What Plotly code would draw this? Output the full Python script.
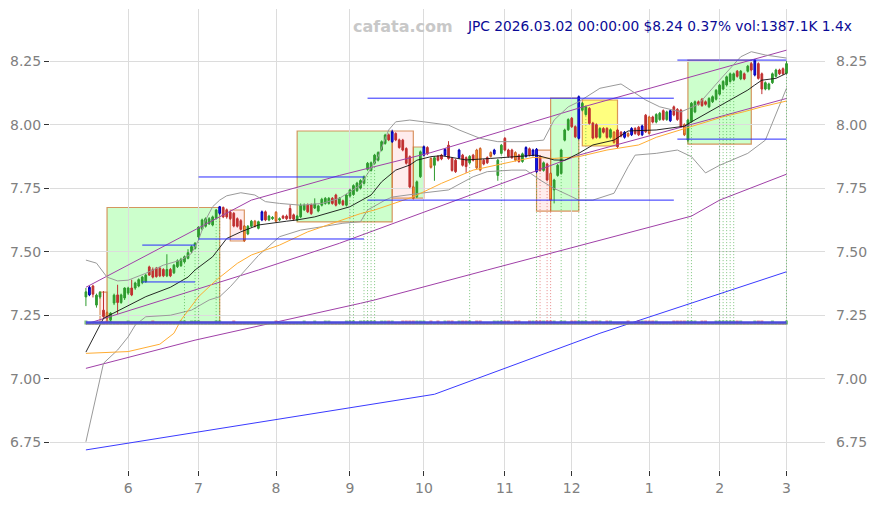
import pandas as pd
import plotly.graph_objects as go

# ---------------- data ----------------
holidays = ["2025-05-26", "2025-06-19", "2025-07-04", "2025-09-01", "2025-11-27",
            "2025-12-25", "2026-01-01", "2026-01-19", "2026-02-16"]
dates = [d.strftime("%Y-%m-%d") for d in pd.bdate_range("2025-05-14", "2026-03-02")
         if d.strftime("%Y-%m-%d") not in holidays]

opens = [7.322, 7.330, 7.365, 7.290, 7.322, 7.270, 7.260, 7.232, 7.298, 7.330,
         7.300, 7.318, 7.337, 7.357, 7.357, 7.365, 7.378, 7.382, 7.440, 7.430,
         7.435, 7.435, 7.430, 7.405, 7.430, 7.417, 7.441, 7.445, 7.460, 7.474,
         7.500, 7.513, 7.558, 7.589, 7.600, 7.610, 7.605, 7.631, 7.651, 7.674,
         7.665, 7.655, 7.651, 7.630, 7.622, 7.601, 7.570, 7.600, 7.620, 7.592,
         7.625, 7.657, 7.625, 7.630, 7.655, 7.625, 7.640, 7.640, 7.670, 7.645,
         7.625, 7.637, 7.665, 7.683, 7.685, 7.672, 7.660, 7.683, 7.690, 7.690,
         7.710, 7.723, 7.690, 7.700, 7.683, 7.719, 7.725, 7.740, 7.750, 7.769,
         7.824, 7.820, 7.848, 7.860, 7.900, 7.926, 7.960, 7.933, 7.965, 7.940,
         7.939, 7.906, 7.874, 7.755, 7.716, 7.795, 7.880, 7.910, 7.867, 7.840,
         7.875, 7.880, 7.880, 7.919, 7.867, 7.860, 7.870, 7.880, 7.870, 7.850,
         7.880, 7.900, 7.906, 7.860, 7.870, 7.890, 7.885, 7.800, 7.887, 7.946,
         7.900, 7.900, 7.890, 7.880, 7.855, 7.875, 7.905, 7.880, 7.903, 7.875,
         7.820, 7.845, 7.808, 7.743, 7.800, 7.808, 7.939, 7.980, 8.025, 7.992,
         7.946, 8.057, 8.040, 8.064, 8.006, 8.000, 7.950, 7.985, 7.985, 7.950,
         7.970, 7.979, 7.970, 7.950, 7.965, 7.960, 7.985, 7.990, 7.960, 8.037,
         8.030, 8.030, 8.010, 8.020, 8.055, 8.020, 8.015, 8.070, 8.060, 8.057,
         8.000, 7.939, 8.012, 8.050, 8.090, 8.100, 8.090, 8.070, 8.090, 8.100,
         8.120, 8.140, 8.156, 8.170, 8.175, 8.210, 8.180, 8.200, 8.210, 8.240,
         8.195, 8.240, 8.200, 8.140, 8.140, 8.165, 8.190, 8.215, 8.220, 8.202]
highs = [7.357, 7.365, 7.370, 7.335, 7.345, 7.345, 7.265, 7.262, 7.335, 7.370,
         7.335, 7.360, 7.362, 7.390, 7.382, 7.395, 7.405, 7.412, 7.445, 7.438,
         7.440, 7.440, 7.435, 7.490, 7.436, 7.452, 7.470, 7.476, 7.485, 7.510,
         7.525, 7.538, 7.600, 7.630, 7.635, 7.636, 7.642, 7.668, 7.680, 7.678,
         7.670, 7.660, 7.656, 7.635, 7.628, 7.605, 7.605, 7.625, 7.625, 7.622,
         7.662, 7.662, 7.645, 7.640, 7.660, 7.635, 7.645, 7.646, 7.685, 7.650,
         7.645, 7.690, 7.690, 7.690, 7.690, 7.710, 7.685, 7.712, 7.715, 7.715,
         7.715, 7.728, 7.715, 7.705, 7.728, 7.748, 7.765, 7.775, 7.785, 7.800,
         7.853, 7.855, 7.885, 7.895, 7.938, 7.964, 7.965, 7.980, 7.970, 7.945,
         7.944, 7.911, 7.879, 7.760, 7.780, 7.898, 7.918, 7.915, 7.872, 7.875,
         7.880, 7.885, 7.908, 7.935, 7.872, 7.865, 7.905, 7.885, 7.875, 7.880,
         7.885, 7.905, 7.911, 7.865, 7.875, 7.895, 7.905, 7.865, 7.924, 7.951,
         7.905, 7.905, 7.895, 7.885, 7.890, 7.915, 7.910, 7.905, 7.908, 7.880,
         7.855, 7.850, 7.813, 7.787, 7.845, 7.905, 7.984, 8.025, 8.030, 7.997,
         8.115, 8.089, 8.075, 8.069, 8.011, 8.005, 7.990, 7.990, 7.990, 7.985,
         7.975, 7.984, 7.975, 7.975, 7.970, 7.990, 7.990, 7.995, 8.000, 8.042,
         8.035, 8.035, 8.045, 8.050, 8.060, 8.055, 8.060, 8.075, 8.065, 8.062,
         8.005, 8.023, 8.089, 8.095, 8.095, 8.105, 8.095, 8.108, 8.115, 8.140,
         8.160, 8.175, 8.193, 8.205, 8.205, 8.215, 8.215, 8.205, 8.235, 8.245,
         8.258, 8.245, 8.205, 8.170, 8.165, 8.205, 8.220, 8.220, 8.225, 8.250]
lows = [7.286, 7.325, 7.320, 7.280, 7.315, 7.240, 7.232, 7.225, 7.290, 7.255,
        7.295, 7.310, 7.330, 7.325, 7.350, 7.360, 7.372, 7.378, 7.405, 7.395,
        7.398, 7.400, 7.400, 7.400, 7.400, 7.412, 7.436, 7.440, 7.455, 7.470,
        7.495, 7.508, 7.550, 7.584, 7.595, 7.605, 7.600, 7.626, 7.645, 7.632,
        7.630, 7.625, 7.596, 7.595, 7.583, 7.538, 7.565, 7.595, 7.595, 7.588,
        7.620, 7.620, 7.620, 7.625, 7.615, 7.620, 7.628, 7.625, 7.626, 7.622,
        7.620, 7.632, 7.660, 7.652, 7.645, 7.668, 7.655, 7.678, 7.685, 7.685,
        7.685, 7.678, 7.685, 7.680, 7.678, 7.714, 7.720, 7.735, 7.745, 7.764,
        7.819, 7.815, 7.843, 7.855, 7.895, 7.921, 7.935, 7.928, 7.935, 7.905,
        7.895, 7.843, 7.750, 7.705, 7.711, 7.790, 7.875, 7.880, 7.827, 7.779,
        7.855, 7.860, 7.875, 7.862, 7.815, 7.810, 7.865, 7.835, 7.810, 7.845,
        7.855, 7.825, 7.816, 7.840, 7.845, 7.870, 7.880, 7.779, 7.882, 7.895,
        7.870, 7.865, 7.855, 7.850, 7.850, 7.870, 7.875, 7.875, 7.810, 7.815,
        7.815, 7.777, 7.697, 7.690, 7.795, 7.803, 7.934, 7.975, 7.987, 7.947,
        7.941, 8.052, 8.035, 8.000, 7.942, 7.945, 7.945, 7.965, 7.945, 7.945,
        7.925, 7.908, 7.950, 7.945, 7.950, 7.955, 7.960, 7.955, 7.955, 7.967,
        7.960, 8.005, 8.005, 8.015, 8.015, 8.015, 8.010, 8.033, 8.015, 7.987,
        7.955, 7.930, 8.007, 8.045, 8.075, 8.070, 8.075, 8.065, 8.085, 8.095,
        8.115, 8.135, 8.151, 8.165, 8.170, 8.185, 8.175, 8.175, 8.205, 8.210,
        8.190, 8.177, 8.120, 8.135, 8.135, 8.160, 8.185, 8.195, 8.195, 8.197]
closes = [7.342, 7.360, 7.333, 7.329, 7.340, 7.245, 7.238, 7.258, 7.329, 7.300,
          7.330, 7.357, 7.357, 7.330, 7.377, 7.390, 7.400, 7.408, 7.408, 7.400,
          7.402, 7.405, 7.405, 7.430, 7.405, 7.447, 7.464, 7.470, 7.480, 7.496,
          7.520, 7.533, 7.597, 7.625, 7.630, 7.630, 7.637, 7.664, 7.677, 7.637,
          7.637, 7.630, 7.601, 7.600, 7.588, 7.543, 7.600, 7.620, 7.600, 7.618,
          7.657, 7.625, 7.640, 7.635, 7.620, 7.630, 7.632, 7.630, 7.631, 7.628,
          7.640, 7.683, 7.683, 7.657, 7.650, 7.688, 7.680, 7.706, 7.710, 7.710,
          7.690, 7.683, 7.710, 7.685, 7.723, 7.743, 7.760, 7.770, 7.780, 7.795,
          7.848, 7.850, 7.880, 7.890, 7.933, 7.959, 7.940, 7.972, 7.940, 7.910,
          7.900, 7.848, 7.755, 7.710, 7.775, 7.893, 7.913, 7.885, 7.832, 7.870,
          7.860, 7.865, 7.903, 7.867, 7.820, 7.815, 7.900, 7.840, 7.835, 7.875,
          7.860, 7.830, 7.821, 7.845, 7.850, 7.875, 7.900, 7.860, 7.919, 7.900,
          7.875, 7.870, 7.860, 7.855, 7.885, 7.910, 7.880, 7.900, 7.815, 7.820,
          7.850, 7.782, 7.703, 7.782, 7.840, 7.900, 7.979, 8.020, 7.992, 7.952,
          8.110, 8.084, 8.070, 8.005, 7.947, 7.950, 7.985, 7.970, 7.950, 7.980,
          7.930, 7.913, 7.955, 7.970, 7.955, 7.985, 7.965, 7.960, 7.995, 7.972,
          7.965, 8.010, 8.040, 8.045, 8.020, 8.050, 8.055, 8.038, 8.020, 7.992,
          7.960, 8.018, 8.084, 8.090, 8.080, 8.075, 8.080, 8.103, 8.110, 8.135,
          8.155, 8.170, 8.188, 8.200, 8.200, 8.190, 8.210, 8.180, 8.230, 8.215,
          8.254, 8.182, 8.140, 8.165, 8.160, 8.200, 8.215, 8.200, 8.200, 8.240]
volumes_k = [1600, 850, 850, 850, 850, 850, 1600, 1600, 850, 850,
             850, 850, 1600, 850, 850, 850, 850, 850, 850, 1600,
             850, 850, 850, 850, 850, 850, 850, 1600, 1600, 850,
             1600, 1600, 1600, 850, 850, 850, 850, 1600, 1600, 850,
             850, 850, 1600, 850, 850, 850, 850, 850, 850, 850,
             850, 850, 850, 850, 1600, 850, 850, 850, 850, 850,
             850, 850, 1600, 850, 850, 1600, 850, 850, 1600, 1600,
             850, 850, 850, 850, 1600, 1600, 1600, 850, 1600, 1600,
             1600, 1600, 1600, 850, 1600, 1600, 1600, 1600, 850, 850,
             1600, 1600, 1600, 1600, 1600, 1600, 1600, 850, 1600, 850,
             1600, 850, 1600, 1600, 1600, 850, 1600, 1600, 1600, 1600,
             850, 1600, 1600, 850, 850, 850, 1600, 1600, 1600, 1600,
             1600, 850, 1600, 1600, 850, 850, 1600, 1600, 1600, 1600,
             1600, 1600, 1600, 1600, 850, 1600, 1600, 850, 1600, 1600,
             1600, 1600, 1600, 850, 1600, 1600, 1600, 850, 1600, 1600,
             850, 850, 850, 850, 1600, 850, 850, 1600, 1600, 1600,
             1600, 1600, 1600, 850, 850, 850, 850, 1600, 1600, 1600,
             1600, 1600, 1600, 1600, 850, 1600, 1600, 850, 850, 1600,
             1600, 1600, 1600, 1600, 1600, 1600, 1600, 850, 850, 850,
             1600, 1600, 1600, 850, 850, 1600, 850, 850, 850, 1600]
blue_idx = [1, 38, 50, 87, 96, 102, 106, 116, 125, 127, 128, 140, 153, 155, 158, 166, 190]
orange_idx = [6, 45, 48, 54, 93, 98, 111, 112, 115, 122, 132, 150, 154, 160, 170]

# indicator lines: (trading-day index, price) knots
ma_short_idx = [0, 5, 17, 24, 29, 31, 36, 40, 44, 49, 57, 60, 65, 75, 81, 84, 88, 92, 94, 98,
                101, 108, 115, 123, 128, 133, 136, 140, 144, 150, 154, 162, 170, 172, 177, 183,
                188, 190, 192, 196, 199]
ma_short_val = [7.105, 7.238, 7.323, 7.360, 7.400, 7.428, 7.480, 7.552, 7.578, 7.605, 7.620,
                7.625, 7.637, 7.677, 7.723, 7.775, 7.821, 7.841, 7.860, 7.874, 7.878, 7.861,
                7.867, 7.874, 7.880, 7.861, 7.860, 7.887, 7.920, 7.939, 7.975, 7.979, 7.994,
                8.011, 8.050, 8.097, 8.136, 8.156, 8.175, 8.182, 8.202]
ma_mid_idx = [0, 12, 21, 25, 27, 32, 37, 43, 47, 55, 63, 70, 78, 82, 93, 101, 110, 121, 127,
              133, 140, 148, 157, 162, 172, 181, 187, 192, 199]
ma_mid_val = [7.100, 7.107, 7.136, 7.179, 7.231, 7.323, 7.388, 7.454, 7.487, 7.526, 7.578,
              7.612, 7.650, 7.664, 7.716, 7.769, 7.821, 7.854, 7.871, 7.867, 7.874, 7.900,
              7.920, 7.950, 7.992, 8.031, 8.051, 8.070, 8.093]
bb_up_idx = [0, 3, 6, 9, 12, 17, 22, 27, 30, 32, 34, 36, 38, 40, 44, 48, 51, 55, 61, 67, 72,
             78, 83, 86, 88, 92, 96, 103, 106, 112, 117, 125, 130, 133, 137, 140, 146, 152,
             159, 163, 169, 174, 180, 186, 189, 193, 199]
bb_up_val = [7.467, 7.455, 7.400, 7.385, 7.388, 7.415, 7.447, 7.467, 7.493, 7.546, 7.625,
             7.677, 7.703, 7.720, 7.732, 7.723, 7.697, 7.690, 7.683, 7.690, 7.710, 7.762,
             7.874, 7.979, 8.011, 8.018, 8.011, 7.998, 7.979, 7.946, 7.933, 7.933, 7.939,
             8.018, 8.070, 8.090, 8.143, 8.160, 8.097, 8.070, 8.050, 8.080, 8.175, 8.267,
             8.287, 8.274, 8.262]
bb_lo_idx = [0, 2, 5, 9, 12, 14, 17, 24, 30, 35, 38, 41, 46, 49, 55, 61, 67, 73, 78, 80, 85,
             87, 95, 103, 110, 114, 121, 125, 129, 133, 137, 140, 144, 150, 154, 156, 162,
             168, 172, 176, 180, 188, 193, 197, 199]
bb_lo_val = [6.752, 6.877, 7.061, 7.113, 7.165, 7.211, 7.244, 7.250, 7.270, 7.310, 7.323,
             7.362, 7.441, 7.485, 7.559, 7.585, 7.598, 7.612, 7.618, 7.664, 7.703, 7.715,
             7.730, 7.743, 7.795, 7.815, 7.821, 7.821, 7.782, 7.749, 7.723, 7.703, 7.703,
             7.730, 7.834, 7.880, 7.887, 7.900, 7.874, 7.810, 7.840, 7.887, 7.939, 8.070,
             8.143]
ch_up_idx = [0, 47, 72, 98, 140, 199]
ch_up_val = [7.360, 7.703, 7.800, 7.890, 8.065, 8.293]
ch_mid_idx = [0, 49, 72, 140, 199]
ch_mid_val = [7.215, 7.428, 7.533, 7.880, 8.103]
ch_lo_idx = [0, 31, 78, 82, 114, 146, 172, 180, 199]
ch_lo_val = [7.041, 7.152, 7.297, 7.310, 7.428, 7.546, 7.640, 7.703, 7.805]
ma_long_idx = [0, 99, 146, 199]
ma_long_val = [6.720, 6.939, 7.179, 7.421]

# zones: start idx, end idx, low, high, type
box_start = [4, 6, 41, 60, 87, 93, 128, 132, 141, 171]
box_end = [6, 38, 45, 87, 93, 96, 132, 140, 151, 189]
box_low = [7.223, 7.223, 7.542, 7.617, 7.711, 7.711, 7.660, 7.660, 7.916, 7.923]
box_high = [7.341, 7.674, 7.664, 7.975, 7.975, 7.912, 7.900, 8.104, 8.097, 8.254]
box_kind = ["down", "up", "down", "up", "down", "up", "down", "up", "flat", "up"]

# horizontal levels
lvl_start = [16, 16, 32, 32, 80, 80, 168, 168]
lvl_end = [31, 31, 79, 79, 167, 167, 199, 199]
lvl_price = [7.381, 7.526, 7.550, 7.794, 8.104, 7.703, 8.254, 7.943]

# signals
sig_up_idx = [28, 31, 32, 37, 38, 75, 76, 79, 80, 81, 82, 109, 118, 128, 135, 140, 142,
              171, 172, 180, 181, 182, 183, 184, 199]
sig_dn_idx = [129, 131, 132]
sig_base = 7.215

vol_ma_a = [800, 800]
vol_ma_b = [200, 200]

month_tick_dates = ["2025-06-02", "2025-07-01", "2025-08-01", "2025-09-02", "2025-10-01",
                    "2025-11-03", "2025-12-01", "2026-01-02", "2026-02-02", "2026-03-02"]
month_tick_text = ["6", "7", "8", "9", "10", "11", "12", "1", "2", "3"]
price_ticks = [6.75, 7.00, 7.25, 7.50, 7.75, 8.00, 8.25]

title_text = "JPC 2026.03.02 00:00:00 $8.24 0.37% vol:1387.1K 1.4x"

# ---------------- styles ----------------
GREEN = "#2e9b2e"
RED = "#c03030"
BLUE = "#1a1aff"
ORANGE = "#ffa820"

fig = go.Figure()

vcol = ["rgba(46,155,46,0.6)" if c >= o else "rgba(192,48,48,0.6)" for o, c in zip(opens, closes)]


def knot_line(idx, val, color, width=1.0):
    fig.add_trace(go.Scatter(x=[dates[i] for i in idx], y=val, mode="lines",
                             line=dict(color=color, width=width), hoverinfo="skip",
                             showlegend=False))


knot_line(ma_long_idx, ma_long_val, "#3a3aff", 1)
knot_line(ch_lo_idx, ch_lo_val, "#a040a8", 1)
knot_line(ch_mid_idx, ch_mid_val, "#a040a8", 1)
knot_line(ch_up_idx, ch_up_val, "#a040a8", 1)
knot_line(bb_up_idx, bb_up_val, "#9a9a9a", 1)
knot_line(bb_lo_idx, bb_lo_val, "#9a9a9a", 1)
knot_line(ma_mid_idx, ma_mid_val, "#ffad33", 1)
knot_line(ma_short_idx, ma_short_val, "#111111", 0.9)


def sig_trace(idx, color):
    xs, ys = [], []
    for i in idx:
        xs += [dates[i], dates[i], None]
        ys += [sig_base, lows[i], None]
    fig.add_trace(go.Scatter(x=xs, y=ys, mode="lines",
                             line=dict(color=color, width=0.8, dash="1px,2px"),
                             hoverinfo="skip", showlegend=False))


sig_trace(sig_up_idx, "rgba(40,160,40,0.75)")
sig_trace(sig_dn_idx, "rgba(215,60,60,0.75)")

lx, ly = [], []
for s, e, p in zip(lvl_start, lvl_end, lvl_price):
    lx += [dates[s], dates[e], None]
    ly += [p, p, None]
fig.add_trace(go.Scatter(x=lx, y=ly, mode="lines", line=dict(color="#2a2aff", width=1),
                         hoverinfo="skip", showlegend=False))

special = set(blue_idx) | set(orange_idx)
normal_idx = [i for i in range(len(dates)) if i not in special]


def candles(idx, inc_fill, inc_line, dec_fill, dec_line):
    fig.add_trace(go.Candlestick(
        x=[dates[i] for i in idx], open=[opens[i] for i in idx], high=[highs[i] for i in idx],
        low=[lows[i] for i in idx], close=[closes[i] for i in idx],
        increasing=dict(fillcolor=inc_fill, line=dict(color=inc_line, width=1)),
        decreasing=dict(fillcolor=dec_fill, line=dict(color=dec_line, width=1)),
        whiskerwidth=0, hoverinfo="skip", showlegend=False))


candles(normal_idx, GREEN, GREEN, RED, RED)
candles(orange_idx, ORANGE, "#c85a28", ORANGE, "#c85a28")
candles(blue_idx, BLUE, "#0000b0", BLUE, "#0000b0")

fig.add_trace(go.Bar(x=dates, y=volumes_k, marker=dict(color=vcol, line=dict(width=0)),
                     yaxis="y3", hoverinfo="skip", showlegend=False))
fig.add_trace(go.Scatter(x=[dates[0], dates[-1]], y=vol_ma_b, mode="lines", yaxis="y3",
                         line=dict(color="#8c8c8c", width=1.5), hoverinfo="skip", showlegend=False))
fig.add_trace(go.Scatter(x=[dates[0], dates[-1]], y=vol_ma_a, mode="lines", yaxis="y3",
                         line=dict(color="#4b4bdc", width=2.5), hoverinfo="skip", showlegend=False))

fig.add_trace(go.Scatter(x=[dates[-1]], y=[closes[-1]], yaxis="y2", mode="markers",
                         marker=dict(opacity=0), hoverinfo="skip", showlegend=False))

fills = {"up": "rgba(0,255,0,0.2)", "down": "rgba(255,40,40,0.09)", "flat": "rgba(255,255,0,0.5)"}
for s, e, lo, hi, k in zip(box_start, box_end, box_low, box_high, box_kind):
    fig.add_shape(type="rect", xref="x", yref="y", x0=dates[s], x1=dates[e], y0=lo, y1=hi,
                  fillcolor=fills[k], line=dict(color="rgba(205,115,50,0.75)", width=1.2),
                  layer="below")

axis_font = dict(family="DejaVu Sans", size=14, color="#808080")
fig.update_layout(
    width=867, height=497,
    margin=dict(l=42, r=50, t=1, b=35),
    paper_bgcolor="white", plot_bgcolor="white",
    showlegend=False, bargap=0.15,
    xaxis=dict(type="date", range=["2025-04-29 19:12", "2026-03-16 22:30"],
               rangebreaks=[dict(bounds=["sat", "mon"]), dict(values=holidays)],
               tickmode="array", tickvals=month_tick_dates, ticktext=month_tick_text,
               showgrid=True, gridcolor="#dcdcdc", gridwidth=1, zeroline=False,
               showline=False, ticks="outside", ticklen=5, tickcolor="#333333",
               tickfont=axis_font, rangeslider=dict(visible=False)),
    yaxis=dict(range=[6.641, 8.455], tickmode="array", tickvals=price_ticks,
               ticktext=[f"{v:.2f}" for v in price_ticks],
               showgrid=True, gridcolor="#dcdcdc", gridwidth=1, zeroline=False,
               showline=False, ticks="outside", ticklen=5, tickcolor="#333333",
               tickfont=axis_font),
    yaxis2=dict(overlaying="y", side="right", range=[6.641, 8.455], tickmode="array",
                tickvals=price_ticks, ticktext=[f"{v:.2f}" for v in price_ticks],
                showgrid=False, zeroline=False, showline=False, ticks="", ticklabelstandoff=10,
                tickfont=axis_font),
    yaxis3=dict(overlaying="y", range=[-58175, 126155], visible=False, fixedrange=True),
    annotations=[
        dict(text="cafata.com", xref="paper", yref="paper", x=0.455, y=0.963,
             xanchor="center", yanchor="middle", showarrow=False,
             font=dict(family="DejaVu Sans", size=16, color="#c8c8c8", weight="bold")),
        dict(text=title_text, xref="paper", yref="paper", x=1.038, y=0.963,
             xanchor="right", yanchor="middle", showarrow=False,
             font=dict(family="DejaVu Sans", size=13.75, color="#0a0a96")),
    ],
)

fig.write_html("out.html")
